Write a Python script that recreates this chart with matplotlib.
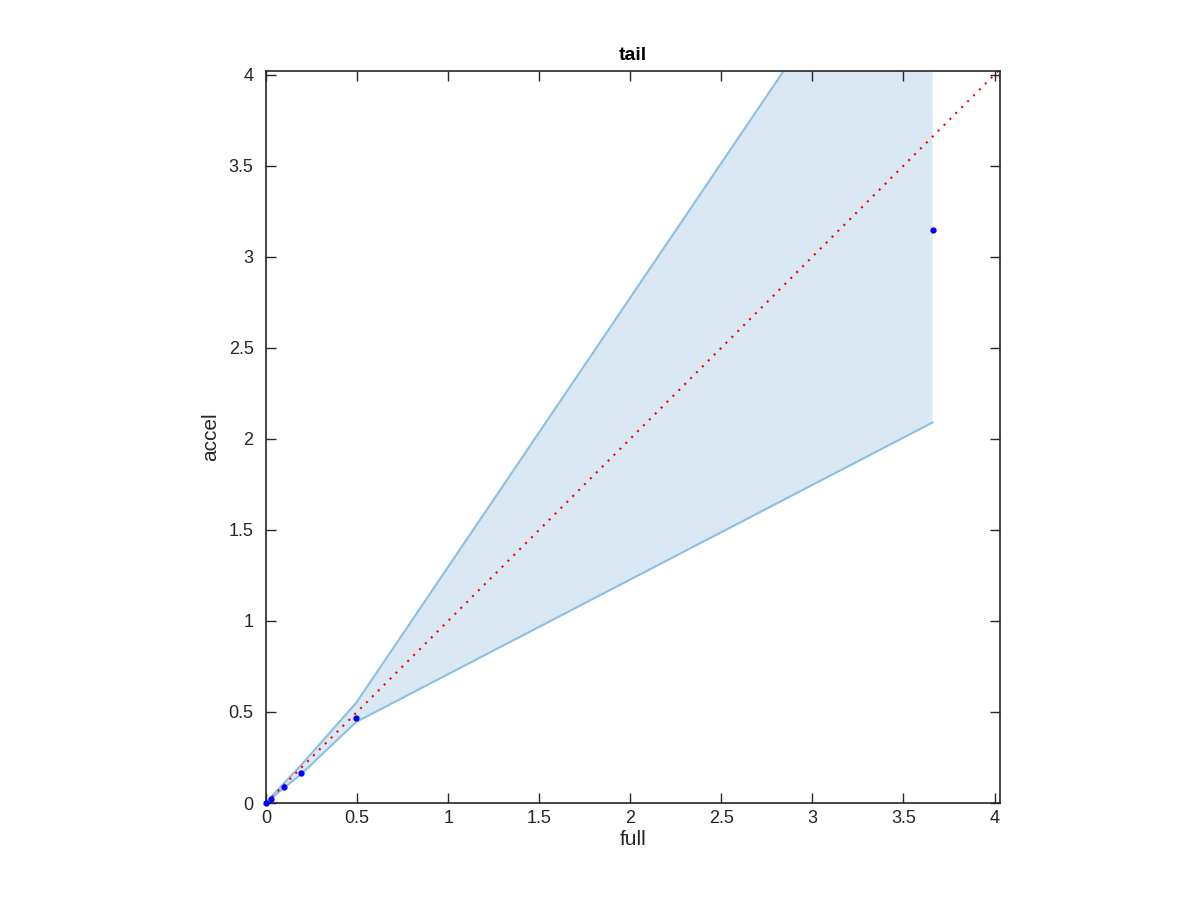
import numpy as np
import matplotlib
matplotlib.use('Agg')
import matplotlib.pyplot as plt

# values
full = [0.0, 0.03, 0.10, 0.19, 0.495, 3.66]
accel = [0.0, 0.02, 0.09, 0.165, 0.465, 3.145]
upper = [0.0, 0.035, 0.11, 0.205, 0.55, 5.23]
lower = [0.0, 0.025, 0.085, 0.155, 0.445, 2.09]
diag = [0.0, 4.03]
ticks = ['0', '0.5', '1', '1.5', '2', '2.5', '3', '3.5', '4']

plt.rcParams['font.family'] = ['Liberation Sans', 'DejaVu Sans']

fig = plt.figure(figsize=(12, 9), dpi=100)
ax = fig.add_axes([266 / 1200, 1 - 803 / 900, 734 / 1200, 732 / 900])

ax.fill_between(full, lower, upper, color='#d9e8f3', linewidth=0)
ax.plot(full, upper, color='#8cc0e3', linewidth=1.5)
ax.plot(full, lower, color='#8cc0e3', linewidth=1.5)
ax.plot(diag, diag, color='red', linestyle=(0, (1, 3)), linewidth=1.5)
ax.plot(full, accel, linestyle='none', marker='o', markersize=3.5, color='blue',
        clip_on=False, zorder=5)

ax.set_xlim(0, 4.03)
ax.set_ylim(0, 4.02)
ax.set_xticks(np.arange(0, 4.01, 0.5))
ax.set_yticks(np.arange(0, 4.01, 0.5))
ax.set_xticklabels(ticks)
ax.set_yticklabels(ticks)
ax.tick_params(direction='in', top=True, right=True, length=7, width=1,
               labelsize=13, colors='#262626')
ax.tick_params(axis='y', pad=9)
ax.tick_params(axis='x', pad=5)
for s in ax.spines.values():
    s.set_linewidth(1.2)
    s.set_color('#262626')

ax.set_title('tail', fontsize=14, fontweight='bold', pad=8)
ax.set_xlabel('full', fontsize=15, color='#262626', labelpad=2)
ax.set_ylabel('accel', fontsize=15, color='#262626', labelpad=6)

plt.savefig('out.png', dpi=100)
